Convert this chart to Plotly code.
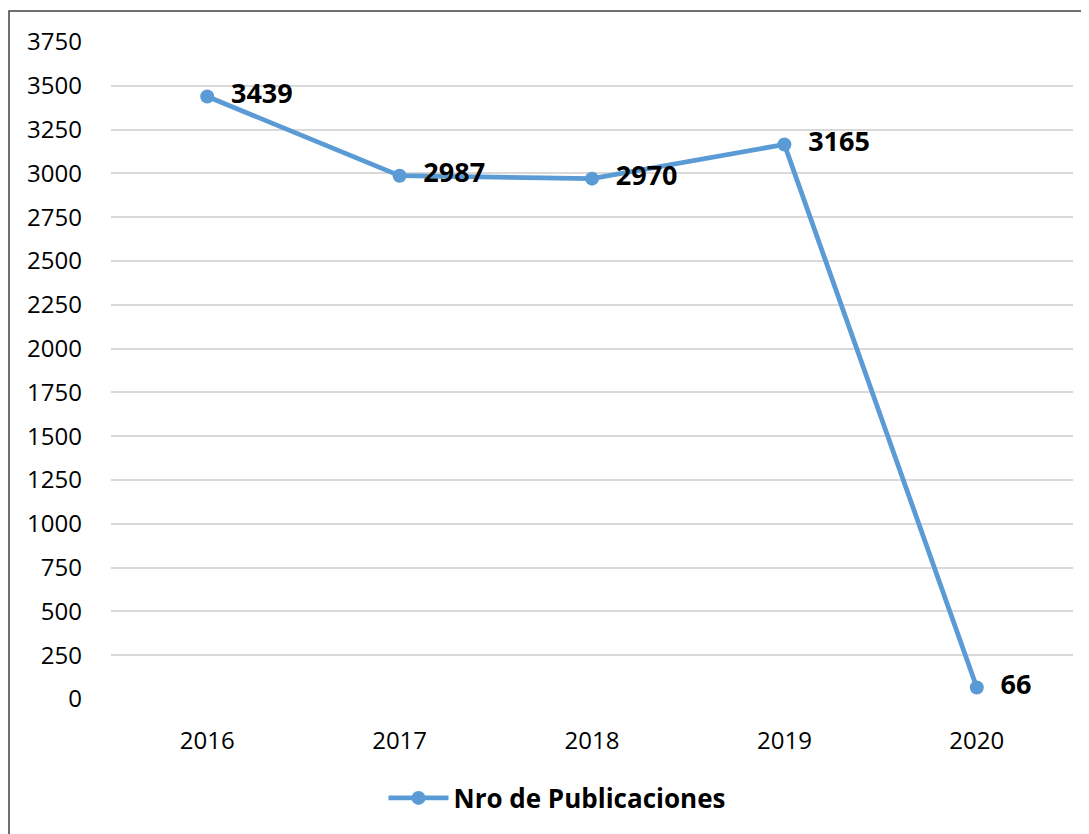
import plotly.graph_objects as go

years = ["2016", "2017", "2018", "2019", "2020"]
publicaciones = [3439, 2987, 2970, 3165, 66]
y_ticks = [0, 250, 500, 750, 1000, 1250, 1500, 1750, 2000, 2250, 2500, 2750, 3000, 3250, 3500, 3750]
series_name = "Nro de Publicaciones"

OFF = 8  # page body margin
W, H = 1089 - OFF, 834 - OFF
L, R, T, B = 111 - OFF, 16, 42 - OFF, 135
pw = W - L - R
ph = H - T - B

def px(x):
    return (x - OFF - L) / pw

def py(y):
    return (H - B - (y - OFF)) / ph

fig = go.Figure()
fig.add_trace(go.Scatter(
    x=years, y=publicaciones, name=series_name,
    mode="lines+markers+text",
    line=dict(color="#5b9bd5", width=4.8),
    marker=dict(color="#5b9bd5", size=14),
    text=["  " + str(v) for v in publicaciones],
    textposition="middle right",
    textfont=dict(family="Open Sans", size=27, color="black", weight="bold"),
    cliponaxis=False,
))

fig.update_layout(
    width=W, height=H,
    margin=dict(l=L, r=R, t=T, b=B),
    paper_bgcolor="white", plot_bgcolor="white",
    font=dict(family="Open Sans", size=24, color="black"),
    showlegend=True,
    legend=dict(orientation="h", x=px(557), xanchor="center", y=py(798), yanchor="middle",
                font=dict(family="Open Sans", size=26, color="black", weight="bold"),
                itemwidth=60),
    xaxis=dict(type="category", showgrid=False, zeroline=False, showline=False,
               ticks="", ticklabelstandoff=25, range=[-0.5, 4.5]),
    yaxis=dict(range=[0, 3750], tickvals=y_ticks, showgrid=True, gridcolor="#d9d9d9",
               gridwidth=1.5, zeroline=False, showline=False, ticks="",
               ticklabelstandoff=28),
    shapes=[dict(type="rect", xref="paper", yref="paper",
                 x0=px(9), x1=px(1100), y0=py(845), y1=py(11),
                 line=dict(color="#404040", width=1.5), fillcolor="rgba(0,0,0,0)",
                 layer="below")],
)

fig.write_html("out.html")
